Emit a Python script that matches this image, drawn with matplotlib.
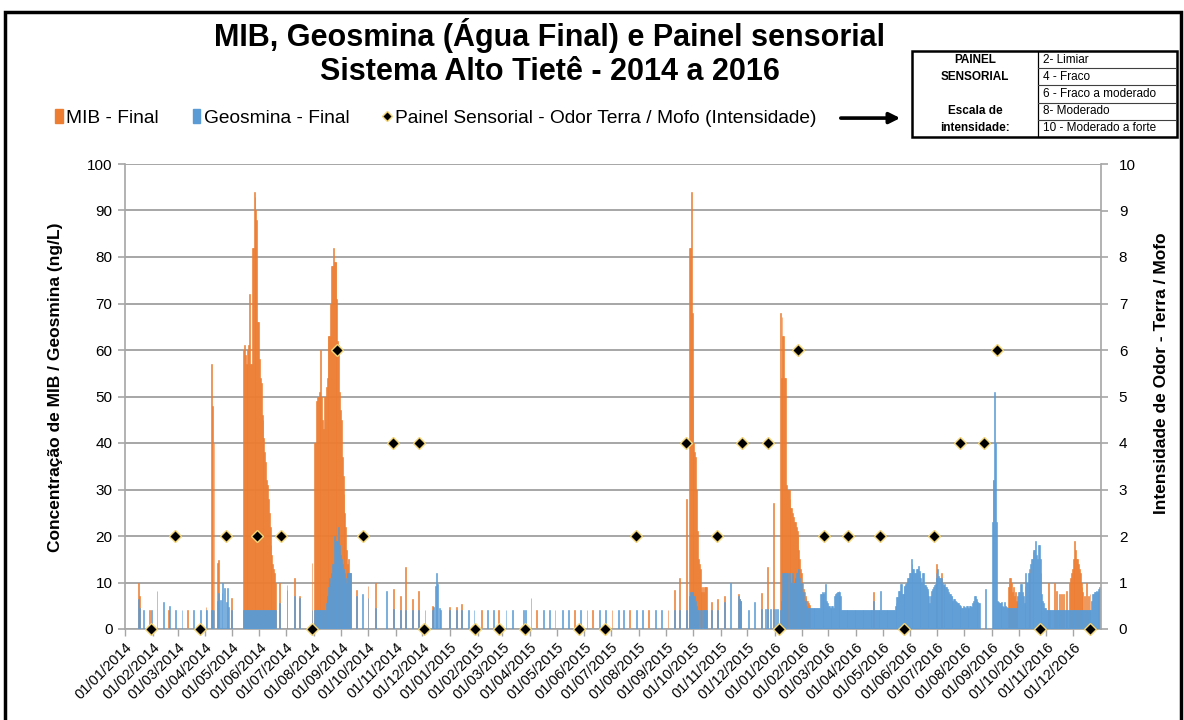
import matplotlib
matplotlib.use("Agg")
from matplotlib import pyplot as plt
from matplotlib.patches import Patch, Rectangle, FancyArrowPatch
from matplotlib.lines import Line2D
import matplotlib.dates as mdates
import pandas as pd

plt.rcParams['font.family'] = ['Liberation Sans', 'DejaVu Sans']

ORANGE = "#ED7D31"
BLUE = "#5B9BD5"

# sparse samples (weekly analyses), MIB and Geosmina in ng/L (0 = no bar)
sample_dates = [
    "2014-01-16", "2014-01-17", "2014-01-22", "2014-01-29", "2014-01-31", "2014-02-06",
    "2014-02-13", "2014-02-19", "2014-02-20", "2014-02-27", "2014-03-06", "2014-03-12",
    "2014-03-19", "2014-03-27", "2014-04-02", "2014-04-03", "2014-04-08", "2014-04-09",
    "2014-04-11", "2014-04-15", "2014-04-16", "2014-04-18", "2014-04-20", "2014-04-21",
    "2014-04-23", "2014-04-25", "2014-04-26", "2014-04-27", "2014-05-01",
    "2014-06-24", "2014-07-02", "2014-07-10", "2014-07-16", "2014-07-30",
    "2014-09-18", "2014-09-25", "2014-10-01", "2014-10-09", "2014-10-22", "2014-10-30",
    "2014-11-06", "2014-11-12", "2014-11-20", "2014-11-27", "2014-12-04", "2014-12-12",
    "2014-12-14", "2014-12-16", "2014-12-17", "2014-12-18", "2014-12-20", "2014-12-21",
    "2015-01-01", "2015-01-08", "2015-01-14", "2015-01-22", "2015-01-28", "2015-02-05",
    "2015-02-12", "2015-02-19", "2015-02-25", "2015-03-05", "2015-03-12", "2015-03-25",
    "2015-03-27", "2015-04-02", "2015-04-08", "2015-04-16", "2015-04-23", "2015-04-29",
    "2015-05-07", "2015-05-14", "2015-05-21", "2015-05-28", "2015-06-04", "2015-06-10",
    "2015-06-18", "2015-06-25", "2015-07-02", "2015-07-09", "2015-07-15", "2015-07-22",
    "2015-07-30", "2015-08-05", "2015-08-12", "2015-08-20", "2015-08-27", "2015-09-03",
    "2015-09-10", "2015-09-16", "2015-09-24",
    "2015-10-22", "2015-10-29", "2015-11-05", "2015-11-12", "2015-11-21", "2015-11-22",
    "2015-11-23", "2015-11-24", "2015-12-02", "2015-12-09", "2015-12-17", "2015-12-21",
    "2015-12-24", "2015-12-27", "2015-12-30", "2016-01-02", "2016-01-04",
]
sample_mib = [
    10, 7, 0, 4, 0, 0,
    0, 4, 0, 0, 0, 4,
    0, 0, 4.7, 0, 57, 48,
    40, 14.2, 14.8, 0, 0, 0,
    0, 0, 0, 0, 6.6,
    9.9, 9.5, 11, 7, 14.1,
    8.4, 0, 9.2, 10, 0, 8.7,
    7, 13.3, 6.4, 8.2, 0, 5,
    0, 0, 0, 0, 0, 0,
    4.7, 4.7, 5.4, 0, 0, 4,
    0, 0, 4, 0, 0, 0,
    0, 0, 4, 0, 0, 4,
    0, 0, 4, 0, 0, 4,
    0, 0, 4, 0, 0, 4,
    0, 0, 4, 0, 0, 4,
    8.4, 11, 28,
    5.9, 6.5, 7.2, 0, 7.5, 6.5,
    6, 0, 0, 0, 7.7, 0,
    13.4, 0, 27, 0, 0,
]
sample_geo = [
    6.5, 4.5, 4, 0, 4, 8.2,
    5.7, 0, 5, 4, 4, 0,
    4, 4, 4, 4, 4, 4,
    4, 6, 7.7, 6.2, 7.7, 9.8,
    8.8, 5.9, 8.8, 4.8, 4,
    5.6, 8.4, 7, 6.6, 4,
    7, 7.5, 6.6, 4.5, 8.2, 4.2,
    4, 4, 4, 4, 4, 4,
    4.7, 9.3, 12, 9.7, 4.5, 4,
    4, 4, 4, 4, 4, 0,
    4, 4, 0, 4, 4, 4,
    4, 6.6, 0, 4, 4, 0,
    4, 4, 0, 4, 4, 0,
    4, 4, 0, 4, 4, 0,
    4, 4, 0, 4, 4, 0,
    4, 4, 4,
    4, 4, 5.9, 9.8, 7, 6.5,
    6, 5, 4, 5.7, 4.3, 4.3,
    4.3, 4.3, 4.3, 4.3, 4.3,
]

# daily episodes
peak_2014a_start = "2014-05-14"
peak_2014a_mib = [60, 61, 59, 57, 57, 60, 61, 72, 57, 57, 82, 82, 94, 93, 90, 88, 66, 66, 58,
                  54, 53, 46, 45, 41, 38, 36, 32, 31, 28, 25, 22, 18, 16, 14, 13, 12, 10]
peak_2014a_geo = [4, 4, 4, 4, 4, 4, 4, 4, 4, 4, 4, 4, 4, 4, 4, 4, 4, 4, 4,
                  4, 4, 4, 4, 4, 4, 4, 4, 4, 4, 4, 4, 4, 4, 4, 4, 4, 4]

peak_2014b_start = "2014-08-02"
peak_2014b_mib = [40, 40, 49, 50, 50, 51, 51, 60, 50, 45, 43, 50, 50, 52, 54, 63, 63, 63, 70, 78,
                  78, 82, 79, 79, 79, 71, 62, 61, 51, 47, 45, 37, 33, 29, 25, 22, 17, 14, 15, 12, 12]
peak_2014b_geo = [4, 4, 4, 4, 4, 4, 4, 4, 4, 4, 4, 4, 4, 5.6, 7, 7, 9, 11, 10, 12,
                  14, 14, 20, 19, 18, 19, 19, 22, 18, 16, 15, 14, 13, 13, 12, 11, 10, 12, 12, 12, 12]

peak_2015_start = "2015-09-27"
peak_2015_mib = [82, 82, 94, 68, 50, 40, 38, 37, 30, 21, 15, 14, 13, 9, 8, 9, 8, 9, 9, 9]
peak_2015_geo = [7, 8, 8, 8, 8, 7, 7, 6, 5, 4, 4, 0, 4, 4, 4, 0, 4, 4, 4, 4]

peak_2016_start = "2016-01-07"
peak_2016_mib = [68, 54, 67, 63, 63, 54, 54, 31, 30, 30, 30, 28, 26, 26, 25, 24, 23, 23, 22, 21,
                 20, 17, 15, 13, 12, 10, 8.5, 8, 7, 6.6, 6, 6, 5.5, 5.2]

# Geosmina, daily from 07/01/2016, one list per month
geo_2016_jan = [4, 6, 8, 12, 12, 12, 12, 12, 12, 0, 12, 11, 10, 10, 12, 10, 10, 11, 12, 12,
                13, 13, 11, 10, 10]
geo_2016_feb = [8, 8, 6, 6, 5, 5, 4.5, 4.5, 4.5, 4.5, 4.5, 4.5, 4.5, 4.5, 4.5, 4.5, 4.5, 4.5,
                4.5, 4.5, 7.5, 7.5, 8, 7.7, 7.5, 8, 9.7, 6, 5.5]
geo_2016_mar = [5, 5, 4.5, 4.5, 5, 5, 4.5, 7, 7.5, 7.7, 8, 8, 8.2, 8, 7, 4, 4, 4, 4, 4,
                4, 4, 4, 4, 4, 4, 4, 4, 4, 4, 4]
geo_2016_apr = [4, 4, 4, 4, 4, 4, 4, 4, 4, 4, 4, 4, 4, 4, 4, 4, 4, 4, 4, 4,
                6, 4, 4, 4, 4, 4, 4, 4, 8.2, 4]
geo_2016_may = [4, 4, 4, 4, 4, 4, 4, 4, 4, 4, 4, 4, 4, 4, 5, 5.5, 6.9, 6.9, 8.2, 8.2,
                9.6, 9.6, 7.5, 7.5, 9.3, 9.3, 9.6, 10, 11, 11, 12]
geo_2016_jun = [12, 15, 14, 13, 13, 12, 12, 13, 13, 13.5, 12.5, 12, 11, 10, 12, 12, 9.5, 9.5,
                9, 8.5, 8.2, 7, 5.5, 7, 8.2, 8.5, 9, 9.5, 9.6, 12]
geo_2016_jul = [11, 12.8, 11.5, 10.9, 11, 11, 10, 9.4, 9.5, 9.6, 9, 9, 8.5, 8, 7.5, 7.5, 7, 7,
                6, 6.5, 6.5, 6, 5.8, 5.5, 5.5, 5.2, 5.2, 5, 4.5, 4.5, 5]
geo_2016_aug = [4.7, 4.5, 5, 5, 4.5, 4.5, 5, 5, 4.7, 5.5, 6, 7, 7, 6.5, 6, 5.8, 5.5, 5.5,
                0, 0, 0, 0, 0, 0, 8.7, 0, 0, 0, 0, 0, 0]
geo_2016_sep = [23, 32, 32, 51, 40, 23, 6, 5.7, 5.5, 5.5, 5, 5.7, 5, 4.7, 5.7, 5, 4.7, 4.5,
                4.5, 4.5, 4.5, 4.5, 4.5, 4.5, 4.5, 4.5, 4.5, 4.5, 5.5, 7]
geo_2016_oct = [8, 8, 9.6, 9.6, 8, 7, 5.6, 5.6, 12, 10, 10, 12, 12, 14, 15, 15, 16.6, 17, 17,
                19, 16, 15, 18, 18, 15, 12, 7.5, 6, 5.5, 4.5, 4.5]
geo_2016_nov = [4, 4, 4, 4, 4, 4, 4, 4, 4, 4, 4, 4, 4, 4, 4, 4, 4, 4, 4, 4,
                4, 4, 4, 4, 4, 4, 4, 4, 4, 4]
geo_2016_dec = [4, 4, 4, 4, 4, 4, 4, 4, 4, 4, 4, 4, 4, 4, 4, 4, 4, 4, 4, 4,
                4, 6, 7.5, 7.5, 8, 8, 8.2, 8, 8.2, 8.5, 9]

# MIB peaking above the Geosmina in the rest of 2016
mib_2016_dates = [
    "2016-04-21", "2016-07-01", "2016-07-06", "2016-09-19", "2016-09-20", "2016-09-21",
    "2016-09-22", "2016-09-23", "2016-09-24", "2016-09-25", "2016-09-26", "2016-09-27",
    "2016-09-28", "2016-10-08", "2016-10-13", "2016-11-03", "2016-11-10", "2016-11-12",
    "2016-11-16", "2016-11-18", "2016-11-20", "2016-11-24", "2016-11-27", "2016-11-28",
    "2016-11-29", "2016-11-30", "2016-12-01", "2016-12-02", "2016-12-03", "2016-12-04",
    "2016-12-05", "2016-12-06", "2016-12-07", "2016-12-08", "2016-12-09", "2016-12-10",
    "2016-12-11", "2016-12-12", "2016-12-14", "2016-12-16", "2016-12-18", "2016-12-20",
]
mib_2016_vals = [
    8, 14, 12, 9, 10, 11,
    11, 10, 8, 9, 7, 8,
    6, 9.3, 13, 9.8, 9.8, 8.2,
    7.5, 7.5, 7.5, 8.2, 10, 11,
    12, 13, 15, 15, 19, 17,
    15, 15, 14, 13, 12, 10,
    9, 8, 7, 10, 7, 7.5,
]

# sensory panel, earthy / musty odour intensity
panel_dates = [
    "2014-01-30", "2014-02-26", "2014-03-26", "2014-04-24", "2014-05-29", "2014-06-25",
    "2014-07-30", "2014-08-27", "2014-09-25", "2014-10-29", "2014-11-27", "2014-12-03",
    "2015-01-29", "2015-02-25", "2015-03-26", "2015-05-26", "2015-06-24", "2015-07-29",
    "2015-09-23", "2015-10-28", "2015-11-25", "2015-12-24", "2016-01-06", "2016-01-27",
    "2016-02-25", "2016-03-23", "2016-04-28", "2016-05-25", "2016-06-28", "2016-07-27",
    "2016-08-23", "2016-09-07", "2016-10-25", "2016-12-20",
]
panel_vals = [
    0, 2, 0, 2, 2, 2,
    0, 6, 2, 4, 4, 0,
    0, 0, 0, 0, 0, 2,
    4, 2, 4, 4, 0, 6,
    2, 2, 2, 0, 2, 4,
    4, 6, 0, 0,
]

scale_labels = ["2- Limiar", "4 - Fraco", "6 - Fraco a moderado", "8- Moderado",
                "10 - Moderado a forte"]


def daily(start, vals):
    return pd.date_range(start, periods=len(vals), freq="D")


# assemble the series
mib_parts = [
    (pd.to_datetime(sample_dates), sample_mib),
    (daily(peak_2014a_start, peak_2014a_mib), peak_2014a_mib),
    (daily(peak_2014b_start, peak_2014b_mib), peak_2014b_mib),
    (daily(peak_2015_start, peak_2015_mib), peak_2015_mib),
    (daily(peak_2016_start, peak_2016_mib), peak_2016_mib),
    (pd.to_datetime(mib_2016_dates), mib_2016_vals),
]
geo_2016 = (geo_2016_jan + geo_2016_feb + geo_2016_mar + geo_2016_apr + geo_2016_may +
            geo_2016_jun + geo_2016_jul + geo_2016_aug + geo_2016_sep + geo_2016_oct +
            geo_2016_nov + geo_2016_dec)
geo_parts = [
    (pd.to_datetime(sample_dates), sample_geo),
    (daily(peak_2014a_start, peak_2014a_geo), peak_2014a_geo),
    (daily(peak_2014b_start, peak_2014b_geo), peak_2014b_geo),
    (daily(peak_2015_start, peak_2015_geo), peak_2015_geo),
    (daily(peak_2016_start, geo_2016), geo_2016),
]

fig = plt.figure(figsize=(11.84, 7.2), dpi=100)
ax = fig.add_axes([125 / 1184, 1 - 629 / 720, (1100.7 - 125) / 1184, (629 - 164) / 720])

for d, v in mib_parts:
    ax.bar(d, v, width=1.0, color=ORANGE, edgecolor=ORANGE, linewidth=0.4, zorder=2)
for d, v in geo_parts:
    ax.bar(d, v, width=1.0, color=BLUE, edgecolor=BLUE, linewidth=0.4, zorder=3)

ax.set_ylim(0, 100)
ax.set_yticks(range(0, 101, 10))
ax.set_xlim(pd.Timestamp("2014-01-01"), pd.Timestamp("2017-01-01"))
ax.set_xticks(pd.date_range("2014-01-01", "2016-12-01", freq="MS"))
ax.xaxis.set_major_formatter(mdates.DateFormatter("%d/%m/%Y"))
ax.grid(axis="y", color="#A6A6A6", linewidth=1.4, zorder=0)
ax.set_axisbelow(True)
for s in ["top", "right"]:
    ax.spines[s].set_visible(False)
for s in ["left", "bottom"]:
    ax.spines[s].set_color("#A6A6A6")
    ax.spines[s].set_linewidth(1.2)
ax.tick_params(axis="y", length=5, color="#A6A6A6", width=1.2, labelsize=11, pad=4)
ax.tick_params(axis="x", length=5, color="#A6A6A6", width=1.0, labelsize=10.5, pad=3)
for lab in ax.get_xticklabels():
    lab.set_rotation(45)
    lab.set_ha("right")
    lab.set_rotation_mode("anchor")

ax2 = ax.twinx()
ax2.set_ylim(0, 10)
ax2.set_yticks(range(0, 11))
ax2.plot(pd.to_datetime(panel_dates), panel_vals, linestyle="none", marker="D",
         markersize=6.5, markerfacecolor="black", markeredgecolor="#F2D479",
         markeredgewidth=1.0, clip_on=False, zorder=5)
for s in ["top", "left", "bottom"]:
    ax2.spines[s].set_visible(False)
ax2.spines["right"].set_color("#A6A6A6")
ax2.spines["right"].set_linewidth(1.2)
ax2.tick_params(axis="y", length=5, color="#A6A6A6", width=1.2, labelsize=11, pad=8)

fig.text(0.047, 0.462, "Concentração de MIB / Geosmina (ng/L)", rotation=90,
         ha="center", va="center", fontsize=12.5, fontweight="bold")
fig.text(0.981, 0.482, "Intensidade de Odor - Terra / Mofo", rotation=90,
         ha="center", va="center", fontsize=12.5, fontweight="bold")

fig.text(0.4645, 0.951, "MIB, Geosmina (Água Final) e Painel sensorial", ha="center",
         va="center", fontsize=22, fontweight="bold")
fig.text(0.4645, 0.900, "Sistema Alto Tietê - 2014 a 2016", ha="center",
         va="center", fontsize=22, fontweight="bold")

handles = [
    Patch(facecolor=ORANGE, edgecolor=ORANGE),
    Patch(facecolor=BLUE, edgecolor=BLUE),
    Line2D([], [], linestyle="none", marker="D", markersize=5, markerfacecolor="black",
           markeredgecolor="#F2D479"),
]
fig.legend(handles, ["MIB - Final", "Geosmina - Final",
                     "Painel Sensorial - Odor Terra / Mofo (Intensidade)"],
           loc="center left", bbox_to_anchor=(0.035, 0.836), ncol=3, frameon=False,
           fontsize=13.8, handlelength=0.4, handleheight=0.7, handletextpad=0.2,
           columnspacing=1.75, borderpad=0.2)

fig.add_artist(FancyArrowPatch(
    (838 / 1184, 0.836), (903 / 1184, 0.836), transform=fig.transFigure,
    arrowstyle="-|>", mutation_scale=16, linewidth=2.6, color="black"))

# intensity scale box
tab = fig.add_axes([912 / 1184, 1 - 137 / 720, 265 / 1184, 86 / 720])
tab.set_xlim(0, 1)
tab.set_ylim(0, 5)
tab.axis("off")
split = 0.475
tab.add_patch(Rectangle((0, 0), 1, 5, fill=False, edgecolor="black", linewidth=1.8,
                        clip_on=False))
tab.plot([split, split], [0, 5], color="black", linewidth=0.9)
for r in range(1, 5):
    tab.plot([split, 1], [r, r], color="#404040", linewidth=0.8)
for i, lab in enumerate(scale_labels):
    tab.text(split + 0.02, 4.5 - i, lab, ha="left", va="center", fontsize=8.5)
tab.text(split / 2, 4.5, "PAINEL", ha="center", va="center", fontsize=8.5,
         fontweight="bold")
tab.text(split / 2, 3.5, "SENSORIAL", ha="center", va="center", fontsize=8.5,
         fontweight="bold")
tab.text(split / 2, 1.5, "Escala de", ha="center", va="center", fontsize=8.5,
         fontweight="bold")
tab.text(split / 2, 0.5, "intensidade:", ha="center", va="center", fontsize=8.5,
         fontweight="bold")

# chart frame
fig.add_artist(Rectangle((5 / 1184, -0.05), 1176 / 1184, 1.05 - 12 / 720, fill=False,
                         edgecolor="black", linewidth=2.5, transform=fig.transFigure,
                         clip_on=False))

fig.savefig("out.png", dpi=100)
